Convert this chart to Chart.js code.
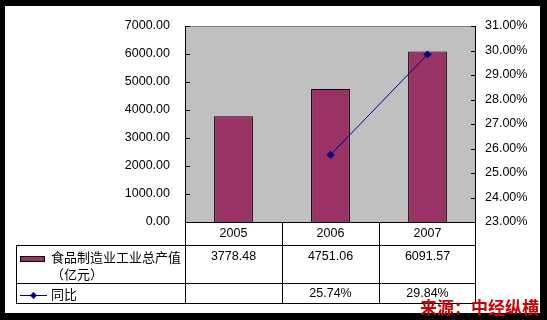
<!DOCTYPE html>
<html><head><meta charset="utf-8">
<script src="https://cdn.jsdelivr.net/npm/chart.js@4/dist/chart.umd.min.js"></script>
<style>html,body{margin:0;padding:0;background:#000;overflow:hidden}</style>
</head><body>
<canvas id="c" width="547" height="320" style="display:block;width:547px;height:320px"></canvas>
<script>
const categories = ['2005', '2006', '2007'];
const outputValues = [3778.48, 4751.06, 6091.57];
const outputLabels = ['3778.48', '4751.06', '6091.57'];
const growthValues = [null, 25.74, 29.84];
const growthLabels = ['', '25.74%', '29.84%'];
const outputName = ['食品制造业工业总产值', '（亿元）'];
const growthName = '同比';
const leftTicks = [0, 7000, 1000];
const rightTicks = [23, 31, 1];
const sourceText = '来源：中经纵横';

const BAR = '#993366', LINE = '#000080';
const FONT = '"Liberation Sans", Arial, sans-serif';
const CJK = '"Noto Sans CJK SC", sans-serif';

const frame = {
  id: 'frame',
  beforeDraw(chart) {
    const ctx = chart.ctx, a = chart.chartArea;
    ctx.save();
    ctx.fillStyle = '#000'; ctx.fillRect(0, 0, 547, 320);
    ctx.fillStyle = '#fff'; ctx.fillRect(5, 6, 535, 307);
    ctx.fillStyle = '#C0C0C0'; ctx.fillRect(a.left, a.top, a.right - a.left, a.bottom - a.top);
    ctx.restore();
  },
  afterDraw(chart) {
    const ctx = chart.ctx, a = chart.chartArea;
    const xs = chart.scales.x, yl = chart.scales.y, yr = chart.scales.y1;
    ctx.save();
    ctx.lineWidth = 1;
    ctx.strokeStyle = '#808080';
    ctx.beginPath(); ctx.moveTo(a.left, a.top + 0.5); ctx.lineTo(a.right, a.top + 0.5); ctx.stroke();
    ctx.strokeStyle = '#000';
    ctx.beginPath();
    ctx.moveTo(a.left + 0.5, a.top); ctx.lineTo(a.left + 0.5, a.bottom);
    ctx.moveTo(a.right - 0.5, a.top); ctx.lineTo(a.right - 0.5, a.bottom);
    yl.ticks.forEach(t => { const y = Math.round(yl.getPixelForValue(t.value)) + 0.5; ctx.moveTo(a.left, y); ctx.lineTo(a.left + 5, y); });
    yr.ticks.forEach(t => { const y = Math.round(yr.getPixelForValue(t.value)) + 0.5; ctx.moveTo(a.right - 5, y); ctx.lineTo(a.right, y); });
    ctx.stroke();

    const n = categories.length, w = (a.right - a.left) / n;
    const tl = 16, y0 = a.bottom, y1 = 245, y2 = 283, y3 = 303;
    ctx.beginPath();
    ctx.moveTo(a.left, y0 + 0.5); ctx.lineTo(a.right, y0 + 0.5);
    [y1, y2, y3].forEach(y => { ctx.moveTo(tl, y + 0.5); ctx.lineTo(a.right, y + 0.5); });
    ctx.moveTo(tl + 0.5, y1); ctx.lineTo(tl + 0.5, y3 + 1);
    for (let k = 0; k <= n; k++) {
      const x = Math.round(a.left + k * w) + (k === n ? -0.5 : 0.5);
      ctx.moveTo(x, y0); ctx.lineTo(x, y3 + 1);
    }
    ctx.stroke();

    ctx.fillStyle = '#000';
    ctx.font = '12.5px ' + FONT;
    ctx.textAlign = 'center'; ctx.textBaseline = 'middle';
    categories.forEach((c, i) => {
      const cx = xs.getPixelForValue(i);
      ctx.fillText(outputLabels[i], cx, 257);
      if (growthLabels[i]) ctx.fillText(growthLabels[i], cx, 294);
    });

    ctx.fillStyle = BAR; ctx.fillRect(20, 256, 25, 6);
    ctx.strokeStyle = '#000'; ctx.strokeRect(20.5, 256.5, 24, 5);
    ctx.strokeStyle = LINE; ctx.beginPath(); ctx.moveTo(20, 295.5); ctx.lineTo(47, 295.5); ctx.stroke();
    ctx.fillStyle = LINE; ctx.beginPath();
    ctx.moveTo(33.5, 292); ctx.lineTo(37, 295.5); ctx.lineTo(33.5, 299); ctx.lineTo(30, 295.5); ctx.closePath(); ctx.fill();

    ctx.fillStyle = '#000';
    ctx.font = '13px ' + CJK;
    ctx.textAlign = 'left';
    ctx.fillText(outputName[0], 51, 257);
    ctx.fillText(outputName[1], 51, 274);
    ctx.fillText(growthName, 51, 294);

    ctx.font = 'bold 17px ' + CJK;
    ctx.textAlign = 'right';
    ctx.fillStyle = '#CC0000';
    ctx.fillText(sourceText, 539, 308);
    ctx.restore();
  }
};

new Chart(document.getElementById('c'), {
  data: {
    labels: categories,
    datasets: [
      { type: 'line', label: growthName, data: growthValues, yAxisID: 'y1', order: 0,
        borderColor: LINE, backgroundColor: LINE, borderWidth: 1,
        pointStyle: 'rectRot', pointRadius: 3.5, pointBorderWidth: 1, tension: 0 },
      { type: 'bar', label: outputName.join(''), data: outputValues, yAxisID: 'y', order: 1,
        backgroundColor: BAR, borderColor: '#000', borderWidth: 1,
        barPercentage: 0.4, categoryPercentage: 1 }
    ]
  },
  options: {
    responsive: false, animation: false, devicePixelRatio: 1,
    layout: { padding: { top: 26, left: 0, right: 0, bottom: 0 } },
    plugins: { legend: { display: false }, tooltip: { enabled: false } },
    scales: {
      x: {
        grid: { display: false, drawTicks: false }, border: { display: false },
        ticks: { color: '#000', font: { family: FONT, size: 12.5 }, padding: 4, maxRotation: 0 },
        afterFit(s) { s.height = 98; }
      },
      y: {
        position: 'left', min: leftTicks[0], max: leftTicks[1],
        grid: { display: false, drawTicks: false }, border: { display: false },
        ticks: { stepSize: leftTicks[2], color: '#000', font: { family: FONT, size: 12.5 }, padding: 15,
          callback: v => v.toFixed(2) },
        afterFit(s) { s.width = 185; }
      },
      y1: {
        position: 'right', min: rightTicks[0], max: rightTicks[1],
        grid: { display: false, drawTicks: false }, border: { display: false },
        ticks: { stepSize: rightTicks[2], color: '#000', font: { family: FONT, size: 12.5 }, padding: 9,
          callback: v => v.toFixed(2) + '%' },
        afterFit(s) { s.width = 71; }
      }
    }
  },
  plugins: [frame]
});
</script>
</body></html>
